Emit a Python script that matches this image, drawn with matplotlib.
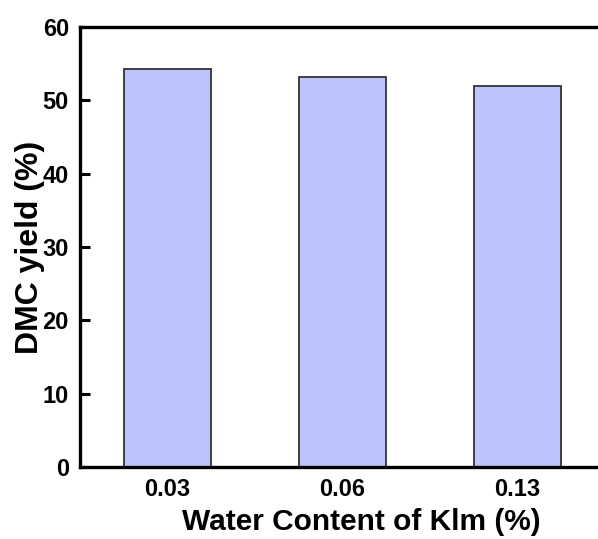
import matplotlib
matplotlib.use("Agg")
import matplotlib.pyplot as plt

categories = ["0.03", "0.06", "0.13"]
yields = [54.3, 53.2, 51.9]
yticks = [0, 10, 20, 30, 40, 50, 60]

plt.rcParams['font.family'] = ['Liberation Sans', 'DejaVu Sans']
plt.rcParams['font.weight'] = 'bold'

fig = plt.figure(figsize=(5.98, 5.39), dpi=100)
ax = fig.add_axes([0.1338, 0.1336, 0.8662, 0.8163])

x = list(range(len(categories)))
ax.bar(x, yields, width=0.5, color='#bcc4fb', edgecolor='#333333', linewidth=1.3)

ax.set_xlim(-0.5, 2.46)
ax.set_ylim(0, 60)
ax.set_xticks(x)
ax.set_xticklabels(categories, fontsize=17, fontweight='bold')
ax.set_yticks(yticks)
ax.set_yticklabels([str(v) for v in yticks], fontsize=17, fontweight='bold')
ax.tick_params(axis='x', length=0, pad=8)
ax.tick_params(axis='y', length=7, width=2.2, direction='in', pad=8)

for s in ['left', 'top', 'bottom']:
    ax.spines[s].set_linewidth(2.4)
ax.spines['right'].set_visible(False)

ax.set_xlabel('Water Content of Klm (%)', fontsize=21.5, fontweight='bold')
ax.set_ylabel('DMC yield (%)', fontsize=23, fontweight='bold')
ax.xaxis.set_label_coords(0.544, -0.093)
ax.yaxis.set_label_coords(-0.0676, 0.5)

fig.savefig('out.png', dpi=100)
